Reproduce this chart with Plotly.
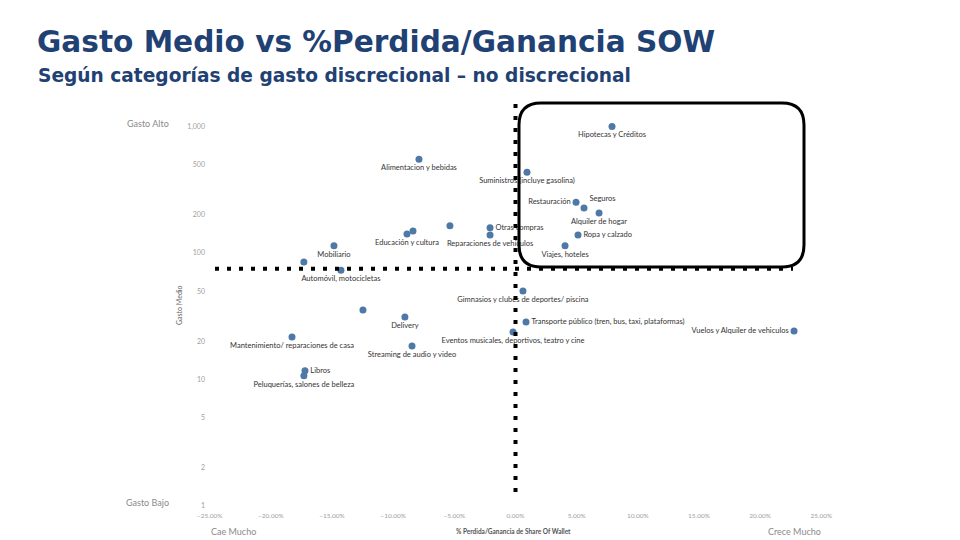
import plotly.graph_objects as go

# ---------------- data ----------------
categories = [
    "Hipotecas y Créditos", "Alimentacion y bebidas", "Suministros (incluye gasolina)",
    "Restauración", "Seguros", "Alquiler de hogar", "Ropa y calzado", "Viajes, hoteles",
    "Otras compras", "Reparaciones de vehículos", "", "Educación y cultura", "",
    "Mobiliario", "", "Automóvil, motocicletas",
    "Gimnasios y clubes de deportes/ piscina",
    "Transporte público (tren, bus, taxi, plataformas)",
    "Eventos musicales, deportivos, teatro y cine", "Vuelos y Alquiler de vehiculos",
    "", "Delivery", "Mantenimiento/ reparaciones de casa", "Streaming de audio y video",
    "Libros", "Peluquerías, salones de belleza",
]
share_change = [
    0.0789, -0.0789, 0.0094, 0.0495, 0.0560, 0.0683, 0.0511, 0.0405,
    -0.0208, -0.0208, -0.0536, -0.0887, -0.0838, -0.1484, -0.1730, -0.1427,
    0.0061, 0.0086, -0.0020, 0.2277, -0.1247, -0.0904, -0.1827, -0.0846,
    -0.1721, -0.1730,
]
gasto_medio = [
    1000, 550, 435, 252, 227, 207, 139, 114,
    158, 139, 164, 141, 149, 114, 85, 73,
    50, 28.5, 23.7, 24.2, 35.4, 31.2, 21.7, 18.4,
    11.7, 10.7,
]
x_ticks = [-0.25, -0.20, -0.15, -0.10, -0.05, 0.0, 0.05, 0.10, 0.15, 0.20, 0.25]
y_ticks = [1, 2, 5, 10, 20, 50, 100, 200, 500, 1000]
umbral_gasto = 75      # horizontal reference
umbral_share = 0.0     # vertical reference

# ---------------- styles ----------------
label_position = {
    "Restauración": "middle left", "Seguros": "top right", "Ropa y calzado": "middle right",
    "Otras compras": "middle right", "Transporte público (tren, bus, taxi, plataformas)": "middle right",
    "Vuelos y Alquiler de vehiculos": "middle left", "Libros": "middle right",
}
text_pos = [label_position.get(c, "bottom center") for c in categories]

# the page places the figure 8px from the top-left corner of the window
OFF = 8
W, H = 960 - OFF, 540 - OFF
# plot area in window pixels
X_LEFT, X_RIGHT, Y_TOP, Y_BOTTOM = 206, 825, 108, 510
L, R, T, B = X_LEFT - OFF, (960 - X_RIGHT), Y_TOP - OFF, (540 - Y_BOTTOM)
PW, PH = X_RIGHT - X_LEFT, Y_BOTTOM - Y_TOP


def px(xp):
    return (xp - X_LEFT) / PW


def py(yp):
    return (Y_BOTTOM - yp) / PH


BLUE = "#4e79a7"
NAVY = "#1f4173"
FONT = "Lato"

fig = go.Figure()
fig.add_trace(go.Scatter(
    x=share_change, y=gasto_medio, mode="markers+text",
    text=categories, textposition=text_pos,
    textfont=dict(family=FONT, size=7.5, color="#333333"),
    marker=dict(color=BLUE, size=7),
    hoverinfo="skip", showlegend=False, cliponaxis=False,
))

shapes = []
# dotted reference lines (overlay)
shapes.append(dict(type="line", xref="x", yref="paper", x0=umbral_share, x1=umbral_share,
                   y0=py(492), y1=py(97),
                   line=dict(color="black", width=4, dash="4px,8px")))
shapes.append(dict(type="line", xref="paper", yref="y", x0=px(215), x1=px(793),
                   y0=umbral_gasto, y1=umbral_gasto,
                   line=dict(color="black", width=4, dash="4px,8px")))

# rounded rectangle (overlay)
x0p, x1p, y0p, y1p, r = 519, 804, 103, 267, 22


def P(a, b):
    return f"{px(a):.5f},{py(b):.5f}"


path = (f"M {P(x0p + r, y0p)} L {P(x1p - r, y0p)} Q {P(x1p, y0p)} {P(x1p, y0p + r)} "
        f"L {P(x1p, y1p - r)} Q {P(x1p, y1p)} {P(x1p - r, y1p)} "
        f"L {P(x0p + r, y1p)} Q {P(x0p, y1p)} {P(x0p, y1p - r)} "
        f"L {P(x0p, y0p + r)} Q {P(x0p, y0p)} {P(x0p + r, y0p)} Z")
shapes.append(dict(type="path", xref="paper", yref="paper", path=path,
                   line=dict(color="black", width=3), fillcolor="rgba(0,0,0,0)"))

annotations = [
    dict(text="<b>Gasto Medio vs %Perdida/Ganancia SOW</b>", xref="paper", yref="paper",
         x=px(35), y=py(42), xanchor="left", yanchor="middle", showarrow=False,
         font=dict(family="DejaVu Sans", size=29.6, color=NAVY)),
    dict(text="<b>Según categorías de gasto discrecional – no discrecional</b>", xref="paper", yref="paper",
         x=px(36), y=py(75), xanchor="left", yanchor="middle", showarrow=False,
         font=dict(family="DejaVu Sans", size=18.6, color=NAVY)),
    dict(text="Gasto Alto", xref="paper", yref="paper", x=px(148), y=py(123),
         xanchor="center", yanchor="middle", showarrow=False,
         font=dict(family=FONT, size=9, color="#8a8a8a")),
    dict(text="Gasto Bajo", xref="paper", yref="paper", x=px(147), y=py(502),
         xanchor="center", yanchor="middle", showarrow=False,
         font=dict(family=FONT, size=9, color="#8a8a8a")),
    dict(text="Cae Mucho", xref="paper", yref="paper", x=px(209), y=py(531),
         xanchor="left", yanchor="middle", showarrow=False,
         font=dict(family=FONT, size=9, color="#8a8a8a")),
    dict(text="Crece Mucho", xref="paper", yref="paper", x=px(823), y=py(531),
         xanchor="right", yanchor="middle", showarrow=False,
         font=dict(family=FONT, size=9, color="#8a8a8a")),
    dict(text="<b>% Perdida/Ganancia de Share Of Wallet</b>", xref="paper", yref="paper",
         x=px(513), y=py(531), xanchor="center", yanchor="middle", showarrow=False,
         font=dict(family=FONT, size=6.5, color="#555555")),
    dict(text="Gasto Medio", xref="paper", yref="paper", x=px(179), y=py(305),
         xanchor="center", yanchor="middle", showarrow=False, textangle=-90,
         font=dict(family=FONT, size=7, color="#666666")),
]

fig.update_layout(
    width=W, height=H,
    margin=dict(l=L, r=R, t=T, b=B),
    paper_bgcolor="white", plot_bgcolor="white",
    shapes=shapes, annotations=annotations,
    xaxis=dict(range=[-0.253, 0.253], tickvals=x_ticks, tickformat=".2%",
               showgrid=False, zeroline=False, showline=False, ticks="",
               tickfont=dict(family=FONT, size=6.5, color="#a0a0a0")),
    yaxis=dict(type="log", range=[-0.0316, 3.146], tickvals=y_ticks, tickformat=",d",
               showgrid=False, zeroline=False, showline=False, ticks="",
               tickfont=dict(family=FONT, size=7, color="#a0a0a0")),
)

fig.write_html("out.html")
